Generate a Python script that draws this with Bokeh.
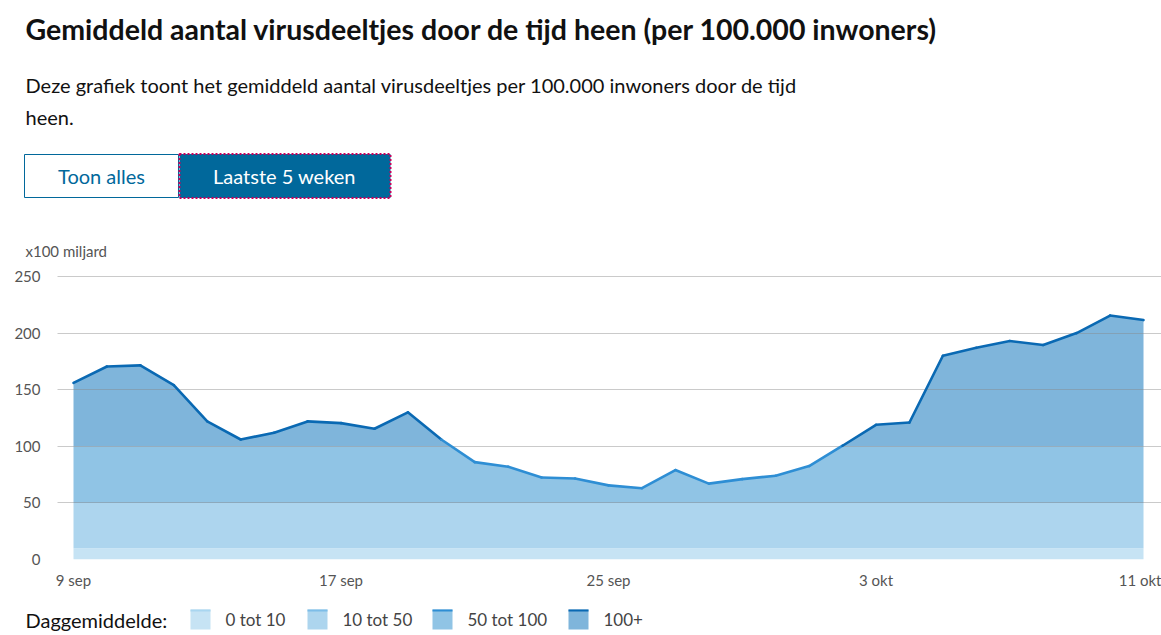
import numpy as np
from bokeh.plotting import figure
from bokeh.layouts import column
from bokeh.models import Range1d, FixedTicker
from bokeh.core.properties import value
from bokeh.embed import file_html
from bokeh.resources import INLINE

# ---------------- data ----------------
title = "Gemiddeld aantal virusdeeltjes door de tijd heen (per 100.000 inwoners)"
subtitle_lines = [
    "Deze grafiek toont het gemiddeld aantal virusdeeltjes per 100.000 inwoners door de tijd",
    "heen.",
]
button_labels = ["Toon alles", "Laatste 5 weken"]
unit_label = "x100 miljard"
legend_title = "Daggemiddelde:"

dates = [f"{d} sep" for d in range(9, 31)] + [f"{d} okt" for d in range(1, 12)]
values = [156, 170.5, 171.5, 154, 122, 106, 112, 122, 120.5, 115.5,
          130, 106, 86, 82, 72.5, 71.5, 65.5, 63, 79, 67,
          71, 74, 82.5, 100.5, 119, 121, 180, 187, 193, 189.5,
          200, 215.5, 211.5]
x_tick_labels = ["9 sep", "17 sep", "25 sep", "3 okt", "11 okt"]
y_ticks = [0, 50, 100, 150, 200, 250]

band_edges = [0, 10, 50, 100]
band_labels = ["0 tot 10", "10 tot 50", "50 tot 100", "100+"]

# ---------------- styles / layout ----------------
FONT = "Lato"
band_fill = ["#c6e3f4", "#add5ee", "#90c4e5", "#7fb5db"]
band_line = ["#a9d6f0", "#7dbde8", "#2e8ed4", "#0a69b3"]
BLUE = "#01689b"
W = 1161
HEAD_H, CHART_H, LEG_H = 266, 334, 35
X_START, X_END = -0.4785, 32.538
Y_END = 255.3


def plain_fig(h):
    f = figure(width=W, height=h, x_range=Range1d(0, W), y_range=Range1d(h, 0),
               output_backend="svg", toolbar_location=None, min_border=0,
               x_axis_location=None, y_axis_location=None, frame_align=False)
    f.grid.visible = False
    f.outline_line_color = None
    return f


def txt(f, x, y, text, size, color="#111111", style="normal", align="left"):
    f.text(x=[x], y=[y], text=[text], text_font=value(FONT), text_font_size=size,
           text_font_style=style, text_color=color, text_align=align,
           text_baseline="middle")


# ---------------- header ----------------
head = plain_fig(HEAD_H)
txt(head, 25, 28, title, "28.5px", style="bold")
txt(head, 25, 84, subtitle_lines[0], "20px")
txt(head, 25, 116, subtitle_lines[1], "20px")

head.quad(left=[24], right=[178], top=[154], bottom=[197], fill_color="white",
          line_color=BLUE, line_width=1)
head.quad(left=[179], right=[390], top=[153.5], bottom=[197.5], fill_color=BLUE,
          line_color="#c8005a", line_width=2, line_dash="2 2")
txt(head, 101, 175, button_labels[0], "20px", color=BLUE, align="center")
txt(head, 284, 175, button_labels[1], "20px", color="white", align="center")
txt(head, 25, 250, unit_label, "15px", color="#555555")

# ---------------- chart ----------------
xs = np.arange(len(values))
vals = np.array(values, dtype=float)

chart = figure(width=W, height=CHART_H, x_range=Range1d(X_START, X_END), y_range=Range1d(0, Y_END),
               output_backend="svg", toolbar_location=None, frame_align=False,
               min_border_left=57, min_border_right=0, min_border_top=4, min_border_bottom=41)
chart.outline_line_color = None

tops = band_edges[1:] + [vals.max()]
for lo, hi, fc in zip(band_edges, tops, band_fill):
    chart.quad(left=xs[0], right=xs[-1], bottom=lo, top=hi, fill_color=fc, line_color=None)

# white mask above the curve (extends past the data ends to hide seams)
mask_x = np.concatenate([[X_START], xs, [X_END]])
mask_y = np.concatenate([[vals[0]], vals, [vals[-1]]])
chart.varea(x=mask_x, y1=mask_y, y2=Y_END + 20, fill_color="white")


def band_of(v):
    idx = 0
    for i, e in enumerate(band_edges):
        if v >= e:
            idx = i
    return idx


seg_x, seg_y, seg_c = [], [], []
for i in range(len(vals) - 1):
    seg_x.append([xs[i], xs[i + 1]])
    seg_y.append([vals[i], vals[i + 1]])
    seg_c.append(band_line[band_of((vals[i] + vals[i + 1]) / 2)])
line_r = chart.multi_line(xs=seg_x, ys=seg_y, line_color=seg_c, line_width=2.6,
                          line_cap="round", line_join="round")
line_r.level = "annotation"

chart.xgrid.visible = False
chart.ygrid.ticker = FixedTicker(ticks=y_ticks)
chart.ygrid.grid_line_color = "#8a8a8a"
chart.ygrid.grid_line_alpha = 0.45
chart.ygrid.grid_line_width = 1
chart.ygrid.level = "guide"

chart.yaxis.ticker = FixedTicker(ticks=y_ticks)
chart.yaxis.axis_line_color = None
chart.yaxis.major_tick_line_color = None
chart.yaxis.minor_tick_line_color = None
chart.yaxis.major_label_standoff = 11
chart.yaxis.major_label_text_font = FONT
chart.yaxis.major_label_text_font_size = "15px"
chart.yaxis.major_label_text_color = "#555555"

tick_idx = [dates.index(d) for d in x_tick_labels]
chart.xaxis.ticker = FixedTicker(ticks=tick_idx)
chart.xaxis.major_label_overrides = {i: d for i, d in zip(tick_idx, x_tick_labels)}
chart.xaxis.axis_line_color = None
chart.xaxis.major_tick_line_color = None
chart.xaxis.minor_tick_line_color = None
chart.xaxis.major_label_standoff = 5
chart.xaxis.major_label_text_font = FONT
chart.xaxis.major_label_text_font_size = "15px"
chart.xaxis.major_label_text_color = "#555555"

# ---------------- legend ----------------
leg = plain_fig(LEG_H)
LEG_Y = 19
sw_left = [190, 307, 432, 568]
txt(leg, 25, LEG_Y, legend_title, "20px")
for xl, fc, lc, lab in zip(sw_left, band_fill, band_line, band_labels):
    leg.quad(left=[xl], right=[xl + 20], top=[LEG_Y - 10], bottom=[LEG_Y + 10],
             fill_color=fc, line_color=None)
    leg.quad(left=[xl], right=[xl + 20], top=[LEG_Y - 10], bottom=[LEG_Y - 8],
             fill_color=lc, line_color=None)
    txt(leg, xl + 35, LEG_Y, lab, "17px", color="#444444")

layout = column(head, chart, leg, spacing=0)
open("out.html", "w").write(file_html(layout, INLINE))
